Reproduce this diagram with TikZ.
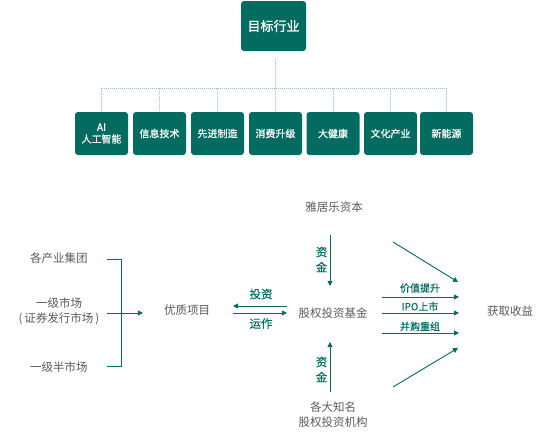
\documentclass[tikz,border=0pt]{standalone}
\usepackage{fontspec}
\setmainfont{Noto Sans CJK SC}
\newfontfamily\medfont[FakeBold=0.9]{Noto Sans CJK SC}
\newfontfamily\semifont[FakeBold=0.5]{Noto Sans CJK SC}
\usetikzlibrary{arrows.meta}
\definecolor{mainteal}{HTML}{046B61}
\definecolor{dotcol}{HTML}{9DC2BE}
\definecolor{graytxt}{HTML}{5A5A5A}
\begin{document}
\begin{tikzpicture}[x=1pt,y=-1pt,
  catbox/.style={fill=mainteal, rounded corners=3pt, text=white, font=\fontsize{10}{12}\selectfont\medfont, align=center, minimum width=53pt, minimum height=43pt, inner sep=0pt},
  topbox/.style={fill=mainteal, rounded corners=3pt, text=white, font=\fontsize{13}{15}\selectfont\medfont, minimum width=65pt, minimum height=50pt, inner sep=0pt},
  dotline/.style={draw=dotcol, line width=0.8pt, dash pattern=on 1pt off 1pt},
  gtxt/.style={text=graytxt, font=\fontsize{11.5}{15}\selectfont, align=center, inner sep=0pt},
  ttxt/.style={text=mainteal, font=\fontsize{11.5}{15}\selectfont\semifont, inner sep=0pt},
  stxt/.style={text=mainteal, font=\fontsize{10}{12}\selectfont\semifont, inner sep=0pt},
  arr/.style={draw=mainteal, line width=0.9pt, -{Triangle[length=5pt,width=5pt]}},
  ln/.style={draw=mainteal, line width=0.9pt}
]
\useasboundingbox (0,0) rectangle (549,439);
% top tree
\node[topbox] (top) at (273.5,26) {目标行业};
\node[catbox] (c1) at (101.5,133.5) {AI\\人工智能};
\node[catbox] (c2) at (159.5,133.5) {信息技术};
\node[catbox] (c3) at (217.5,133.5) {先进制造};
\node[catbox] (c4) at (275.5,133.5) {消费升级};
\node[catbox] (c5) at (333,133.5) {大健康};
\node[catbox] (c6) at (390.5,133.5) {文化产业};
\node[catbox] (c7) at (446.5,133.5) {新能源};
\coordinate (tstart) at (275.5,59);
\coordinate (hub) at (275.5,88);
\draw[dotline] (tstart) -- (hub);
\draw[dotline] (c1.north |- hub) -- (c7.north |- hub);
\foreach \i in {1,...,7}{\draw[dotline] (c\i.north |- hub) -- (c\i.north);}
% left sources
\node[gtxt] (g1) at (59,258) {各产业集团};
\node[gtxt] (g2) at (59,311.5) {一级市场\\(\hspace{2pt}证券发行市场\hspace{2pt})};
\node[gtxt] (g3) at (59,367) {一级半市场};
\coordinate (b1) at (107,259);
\coordinate (b2) at (121,259);
\coordinate (b3) at (121,366);
\coordinate (b4) at (107,366);
\coordinate (m1) at (107,313);
\coordinate (m2) at (143,313);
\draw[ln] (b1) -- (b2) -- (b3) -- (b4);
\draw[arr] (m1) -- (m2);
\node[gtxt] (yz) at (187,310) {优质项目};
\node[gtxt] (fund) at (333,313) {股权投资基金};
\coordinate (i1) at (287,306);
\coordinate (i2) at (233,306);
\coordinate (o1) at (233,313);
\coordinate (o2) at (287,313);
\draw[arr] (i1) -- (i2);
\draw[arr] (o1) -- (o2);
\node[ttxt] (lt) at (261,294) {投资};
\node[ttxt] (ly) at (261,323.5) {运作};
% top capital
\node[gtxt] (yjl) at (334,207) {雅居乐资本};
\coordinate (v1) at (330,235);
\coordinate (v2) at (330,286);
\draw[arr] (v1) -- (v2);
\node[ttxt] (z1) at (321.5,252) {资};
\node[ttxt] (j1) at (321.5,267) {金};
% bottom capital
\node[gtxt] (gd) at (333,414.5) {各大知名\\股权投资机构};
\coordinate (w1) at (330,392);
\coordinate (w2) at (330,342);
\draw[arr] (w1) -- (w2);
\node[ttxt] (z2) at (321.5,362) {资};
\node[ttxt] (j2) at (321.5,377) {金};
% right
\node[gtxt] (hq) at (510,311) {获取收益};
\coordinate (r1a) at (382,297); \coordinate (r1b) at (459,297);
\coordinate (r2a) at (382,313); \coordinate (r2b) at (459,313);
\coordinate (r3a) at (382,333); \coordinate (r3b) at (459,333);
\draw[arr] (r1a) -- (r1b);
\draw[arr] (r2a) -- (r2b);
\draw[arr] (r3a) -- (r3b);
\node[stxt] (p1) at (420,288) {价值提升};
\node[stxt] (p2) at (420,306.5) {IPO上市};
\node[stxt] (p3) at (420,326.5) {并购重组};
\coordinate (d1a) at (393,242); \coordinate (d1b) at (458,282);
\coordinate (d2a) at (393,387); \coordinate (d2b) at (458,348);
\draw[arr] (d1a) -- (d1b);
\draw[arr] (d2a) -- (d2b);
\end{tikzpicture}
\end{document}
